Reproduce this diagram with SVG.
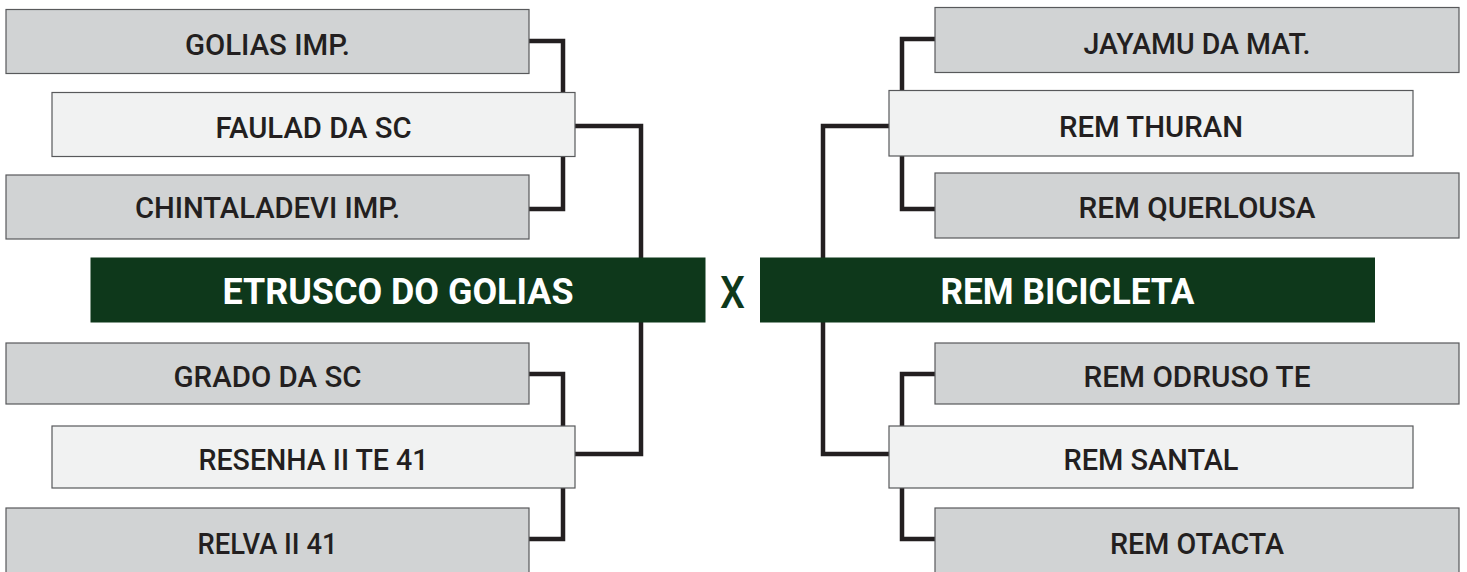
<svg xmlns="http://www.w3.org/2000/svg" width="1467" height="572" viewBox="0 0 1467 572">
<style>
.outer{fill:#d1d3d4;stroke:#58595b;stroke-width:1.2}
.mid{fill:#f1f2f2;stroke:#58595b;stroke-width:1.2}
.final{fill:#0e381b}
.lbl{font-family:Roboto,"Liberation Sans",Arial,sans-serif;font-size:30px;font-weight:500;fill:#231f20;text-anchor:middle}
.big{font-family:Roboto,"Liberation Sans",Arial,sans-serif;font-size:36px;font-weight:bold;fill:#ffffff;text-anchor:middle}
.vs{font-family:Roboto,"Liberation Sans",Arial,sans-serif;font-size:44px;font-weight:500;fill:#0e381b;text-anchor:middle}
.con{fill:none;stroke:#231f20;stroke-width:4.5;stroke-linejoin:miter}
</style>
<rect width="1467" height="572" fill="#ffffff"/>
<g id="connectors">
<path class="con" d="M529,41 H563 V209 H529"/>
<path class="con" d="M575,126 H641 V454 H575"/>
<path class="con" d="M529,374 H563 V539 H529"/>
<path class="con" d="M935,39 H902 V209 H935"/>
<path class="con" d="M889,126 H823 V454 H889"/>
<path class="con" d="M935,374 H902 V539 H935"/>
</g>
<g id="golias-imp"><rect class="outer" x="6" y="9.5" width="523" height="64"/><text class="lbl" x="267.5" y="55" textLength="165" lengthAdjust="spacingAndGlyphs">GOLIAS IMP.</text></g>
<g id="faulad-da-sc"><rect class="mid" x="52" y="92.5" width="523" height="64"/><text class="lbl" x="313.5" y="138" textLength="196" lengthAdjust="spacingAndGlyphs">FAULAD DA SC</text></g>
<g id="chintaladevi-imp"><rect class="outer" x="6" y="175" width="523" height="64"/><text class="lbl" x="267.5" y="218" textLength="265" lengthAdjust="spacingAndGlyphs">CHINTALADEVI IMP.</text></g>
<g id="etrusco-do-golias"><rect class="final" x="90.5" y="257.5" width="615" height="65"/><text class="big" x="398" y="304" textLength="351" lengthAdjust="spacingAndGlyphs">ETRUSCO DO GOLIAS</text></g>
<g id="grado-da-sc"><rect class="outer" x="6" y="343" width="523" height="61"/><text class="lbl" x="267.5" y="387" textLength="188" lengthAdjust="spacingAndGlyphs">GRADO DA SC</text></g>
<g id="resenha-ii-te-41"><rect class="mid" x="52" y="426" width="523" height="62"/><text class="lbl" x="313.5" y="470" textLength="230" lengthAdjust="spacingAndGlyphs">RESENHA II TE 41</text></g>
<g id="relva-ii-41"><rect class="outer" x="6" y="508" width="523" height="66"/><text class="lbl" x="267.5" y="554" textLength="140" lengthAdjust="spacingAndGlyphs">RELVA II 41</text></g>
<g id="versus"><text class="vs" x="732.5" y="308" textLength="25" lengthAdjust="spacingAndGlyphs">X</text></g>
<g id="jayamu-da-mat"><rect class="outer" x="935" y="7.5" width="524" height="65"/><text class="lbl" x="1197" y="54" textLength="227" lengthAdjust="spacingAndGlyphs">JAYAMU DA MAT.</text></g>
<g id="rem-thuran"><rect class="mid" x="889" y="90.5" width="524" height="65.5"/><text class="lbl" x="1151" y="137" textLength="184" lengthAdjust="spacingAndGlyphs">REM THURAN</text></g>
<g id="rem-querlousa"><rect class="outer" x="935" y="173" width="524" height="65"/><text class="lbl" x="1197" y="218" textLength="237" lengthAdjust="spacingAndGlyphs">REM QUERLOUSA</text></g>
<g id="rem-bicicleta"><rect class="final" x="760" y="257.5" width="615" height="65"/><text class="big" x="1067.5" y="304" textLength="254" lengthAdjust="spacingAndGlyphs">REM BICICLETA</text></g>
<g id="rem-odruso-te"><rect class="outer" x="935" y="343" width="524" height="61"/><text class="lbl" x="1197" y="387" textLength="227" lengthAdjust="spacingAndGlyphs">REM ODRUSO TE</text></g>
<g id="rem-santal"><rect class="mid" x="889" y="426" width="524" height="62"/><text class="lbl" x="1151" y="470" textLength="175" lengthAdjust="spacingAndGlyphs">REM SANTAL</text></g>
<g id="rem-otacta"><rect class="outer" x="935" y="508" width="524" height="66"/><text class="lbl" x="1197" y="554" textLength="174" lengthAdjust="spacingAndGlyphs">REM OTACTA</text></g>
</svg>
